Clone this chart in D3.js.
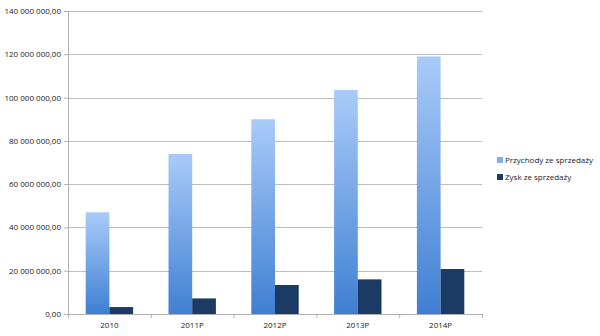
<!DOCTYPE html>
<html>
<head>
<meta charset="utf-8">
<script src="https://cdn.jsdelivr.net/npm/d3@7"></script>
<style>
  body { margin: 0; background: #fff; }
  text { font-family: "Open Sans", "Liberation Sans", sans-serif; fill: #222; }
</style>
</head>
<body>
<div class="container"></div>
<script>
var svgWidth = 600;
var svgHeight = 336;

// data
var categories = ["2010", "2011P", "2012P", "2013P", "2014P"];
var seriesNames = ["Przychody ze sprzedaży", "Zysk ze sprzedaży"];
var revenue = [47000000, 74000000, 90000000, 103500000, 119000000];
var profit = [3200000, 7200000, 13400000, 16000000, 20800000];
var yTicks = [0, 20000000, 40000000, 60000000, 80000000, 100000000, 120000000, 140000000];

var chartMargin = { top: 11, bottom: 22, left: 68, right: 118 };
var chartWidth = svgWidth - chartMargin.left - chartMargin.right;
var chartHeight = svgHeight - chartMargin.top - chartMargin.bottom;

var svg = d3.select(".container")
    .append("svg")
    .attr("width", svgWidth)
    .attr("height", svgHeight);

var defs = svg.append("defs");
var grad = defs.append("linearGradient")
    .attr("id", "revGrad")
    .attr("x1", 0).attr("y1", 0).attr("x2", 0).attr("y2", 1);
grad.append("stop").attr("offset", "0%").attr("stop-color", "#a9cbf9");
grad.append("stop").attr("offset", "100%").attr("stop-color", "#3f7fd2");

var chartGroup = svg.append("g")
    .attr("transform", `translate(${chartMargin.left}, ${chartMargin.top})`);

var xBandScale = d3.scaleBand()
    .domain(categories)
    .range([0, chartWidth])
    .padding(0);

var groupPad = 17.7;
var xInner = d3.scaleBand()
    .domain([0, 1])
    .range([groupPad, xBandScale.bandwidth() - groupPad])
    .padding(0);

var yLinearScale = d3.scaleLinear()
    .domain([0, 140000000])
    .range([chartHeight, 0]);

function fmt(v) {
    var s = d3.format(",.2f")(v);
    return s.replace(/,/g, " ").replace(".", ",");
}

// gridlines
chartGroup.append("g")
    .selectAll("line")
    .data(yTicks.slice(1))
    .enter()
    .append("line")
    .attr("x1", 0)
    .attr("x2", chartWidth)
    .attr("y1", d => Math.round(yLinearScale(d)) + 0.5)
    .attr("y2", d => Math.round(yLinearScale(d)) + 0.5)
    .attr("stroke", "#bdbdbd")
    .attr("stroke-width", 1);

// y axis
var leftAxis = d3.axisLeft(yLinearScale)
    .tickValues(yTicks)
    .tickFormat(fmt)
    .tickSizeInner(4)
    .tickSizeOuter(0)
    .tickPadding(3);

var yAxisG = chartGroup.append("g").call(leftAxis);
yAxisG.selectAll("path, line").attr("stroke", "#b0b0b0");
yAxisG.selectAll("text").style("font-size", "8px").attr("fill", "#222");

// bars
var groups = chartGroup.selectAll(".grp")
    .data(categories)
    .enter()
    .append("g")
    .attr("class", "grp")
    .attr("transform", d => `translate(${xBandScale(d)},0)`);

groups.append("rect")
    .attr("x", xInner(0))
    .attr("width", xInner.bandwidth())
    .attr("y", (d, i) => yLinearScale(revenue[i]))
    .attr("height", (d, i) => chartHeight - yLinearScale(revenue[i]))
    .attr("fill", "url(#revGrad)");

groups.append("rect")
    .attr("x", xInner(1))
    .attr("width", xInner.bandwidth())
    .attr("y", (d, i) => yLinearScale(profit[i]))
    .attr("height", (d, i) => chartHeight - yLinearScale(profit[i]))
    .attr("fill", "#1b3a64");

// x axis
var bottomAxis = d3.axisBottom(xBandScale).tickSize(0).tickPadding(8);
var xAxisG = chartGroup.append("g")
    .attr("transform", `translate(0, ${chartHeight})`)
    .call(bottomAxis);
xAxisG.select("path").attr("stroke", "#b0b0b0");
xAxisG.selectAll("text").style("font-size", "8px").attr("fill", "#222");

// category boundary ticks
chartGroup.append("g")
    .selectAll("line")
    .data(categories.concat(["end"]))
    .enter()
    .append("line")
    .attr("x1", (d, i) => i < categories.length ? xBandScale(d) + 0.5 : chartWidth + 0.5)
    .attr("x2", (d, i) => i < categories.length ? xBandScale(d) + 0.5 : chartWidth + 0.5)
    .attr("y1", chartHeight)
    .attr("y2", chartHeight + 4)
    .attr("stroke", "#b0b0b0");

// legend
var legend = svg.append("g")
    .attr("transform", "translate(497, 157)");
var legendColors = ["#7fb0ef", "#1b3a64"];
var items = legend.selectAll(".item")
    .data(seriesNames)
    .enter()
    .append("g")
    .attr("transform", (d, i) => `translate(0, ${i * 17})`);
items.append("rect")
    .attr("width", 6)
    .attr("height", 6)
    .attr("fill", (d, i) => legendColors[i]);
items.append("text")
    .attr("x", 8)
    .attr("y", 3)
    .attr("dy", "0.35em")
    .style("font-size", "8px")
    .text(d => d);
</script>
</body>
</html>
